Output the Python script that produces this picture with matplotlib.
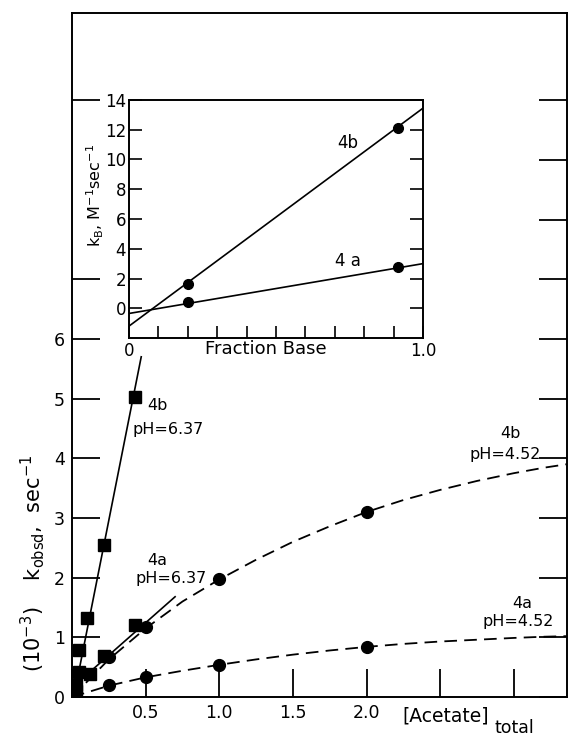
import matplotlib
matplotlib.use("Agg")
import matplotlib.pyplot as plt

plt.rcParams['font.family'] = ['DejaVu Sans']

# main plot: k_obsd vs total acetate
sq_b637_x = [0.025, 0.05, 0.10, 0.22, 0.43]
sq_b637_y = [0.20, 0.79, 1.32, 2.55, 5.02]
sq_a637_x = [0.025, 0.05, 0.12, 0.22, 0.43]
sq_a637_y = [0.10, 0.42, 0.38, 0.69, 1.20]

fit_b637_x = [0.02, 0.47]
fit_b637_y = [0.10, 5.70]
fit_a637_x = [0.02, 0.70]
fit_a637_y = [0.20, 1.68]

ci_b452_x = [0.25, 0.5, 1.0, 2.0]
ci_b452_y = [0.67, 1.18, 1.97, 3.10]
ci_a452_x = [0.25, 0.5, 1.0, 2.0]
ci_a452_y = [0.20, 0.33, 0.54, 0.84]

# dashed curves
curve_x = [0, 0.25, 0.5, 0.75, 1.0, 1.25, 1.5, 1.75, 2.0, 2.25, 2.5, 2.75, 3.0, 3.2, 3.36]
curve_b452 = [0, 0.63, 1.15, 1.60, 1.97, 2.30, 2.60, 2.86, 3.10, 3.30, 3.47, 3.62, 3.75, 3.84, 3.90]
curve_a452 = [0, 0.19, 0.33, 0.44, 0.54, 0.63, 0.71, 0.78, 0.84, 0.89, 0.93, 0.96, 0.99, 1.01, 1.02]

x_ticks = [0, 0.5, 1.0, 1.5, 2.0, 2.5, 3.0]
x_ticklabels = ['', '0.5', '1.0', '1.5', '2.0', '', '']
y_ticks = [0, 1, 2, 3, 4, 5, 6, 7, 8, 9, 10]
y_ticklabels = ['0', '1', '2', '3', '4', '5', '6', '', '', '', '']

# inset: k_B vs fraction base
frac_x = [0.2, 0.915]
kb_4b = [1.6, 12.1]
kb_4a = [0.4, 2.75]
inset_fit_x = [0, 1.0]
inset_fit_4b = [-1.2, 13.45]
inset_fit_4a = [-0.35, 3.0]
inset_yticks = [0, 2, 4, 6, 8, 10, 12, 14]
inset_xticks = [0, 0.1, 0.2, 0.3, 0.4, 0.5, 0.6, 0.7, 0.8, 0.9, 1.0]

fig = plt.figure(figsize=(5.68, 7.39), dpi=100)
ax = fig.add_axes([0.1268, 0.0568, 0.871, 0.9256])

ax.plot(fit_b637_x, fit_b637_y, color='black', lw=1.2)
ax.plot(fit_a637_x, fit_a637_y, color='black', lw=1.2)
ax.plot(sq_b637_x, sq_b637_y, 's', color='black', ms=9)
ax.plot(sq_a637_x, sq_a637_y, 's', color='black', ms=9)
ax.plot(curve_x, curve_b452, color='black', lw=1.3, linestyle=(0, (7, 4)))
ax.plot(curve_x, curve_a452, color='black', lw=1.3, linestyle=(0, (7, 4)))
ax.plot(ci_b452_x, ci_b452_y, 'o', color='black', ms=8.5)
ax.plot(ci_a452_x, ci_a452_y, 'o', color='black', ms=8.5)

ax.set_xlim(0, 3.36)
ax.set_ylim(0, 11.46)
ax.set_xticks(x_ticks)
ax.set_xticklabels(x_ticklabels)
ax.set_yticks(y_ticks)
ax.set_yticklabels(y_ticklabels)
ax.tick_params(direction='in', length=20, width=1.3, labelsize=12.5, pad=5,
               right=True, top=False)
# left ticks at 8 and 9 are hidden behind the inset label in the original
for i in (8, 9):
    ax.yaxis.get_major_ticks()[i].tick1line.set_visible(False)
for s in ax.spines.values():
    s.set_linewidth(1.4)

lab = dict(fontsize=11.5, ha='center', va='center')
ax.text(0.583, 4.89, '4b', **lab)
ax.text(0.651, 4.49, 'pH=6.37', **lab)
ax.text(0.576, 2.29, '4a', **lab)
ax.text(0.671, 1.98, 'pH=6.37', **lab)
ax.text(2.976, 4.42, '4b', **lab)
ax.text(2.942, 4.07, 'pH=4.52', **lab)
ax.text(3.058, 1.57, '4a', **lab)
ax.text(3.03, 1.27, 'pH=4.52', **lab)

fig.text(0.785, 0.031, '[Acetate]', fontsize=13.5, ha='center', va='center')
fig.text(0.905, 0.015, 'total', fontsize=12.5, ha='center', va='center')
fig.text(0.058, 0.238, r'(10$^{-3}$)    k$_{\mathrm{obsd}}$,  sec$^{-1}$', fontsize=15,
         rotation=90, ha='center', va='center')

ins = fig.add_axes([0.2271, 0.5426, 0.5176, 0.3221])
ins.set_facecolor('white')
ins.plot(inset_fit_x, inset_fit_4b, color='black', lw=1.2)
ins.plot(inset_fit_x, inset_fit_4a, color='black', lw=1.2)
ins.plot(frac_x, kb_4b, 'o', color='black', ms=7)
ins.plot(frac_x, kb_4a, 'o', color='black', ms=7)
ins.set_xlim(0, 1.0)
ins.set_ylim(-2, 14)
ins.set_yticks(inset_yticks)
ins.set_xticks(inset_xticks)
ins.set_xticklabels(['0', '', '', '', '', '', '', '', '', '', '1.0'])
ins.tick_params(direction='in', labelsize=12, width=1.2, pad=3, right=True)
ins.tick_params(axis='y', length=9.4, pad=2)
ins.tick_params(axis='x', length=8.5)
for s in ins.spines.values():
    s.set_linewidth(1.4)
ins.text(0.466, -2.75, 'Fraction Base', fontsize=13, ha='center', va='center')
ins.text(0.745, 11.1, '4b', fontsize=12, ha='center', va='center')
ins.text(0.745, 3.2, '4 a', fontsize=12, ha='center', va='center')
fig.text(0.167, 0.736, r'k$_{\mathrm{B}}$, M$^{-1}$sec$^{-1}$', fontsize=11.5,
         rotation=90, ha='center', va='center')

fig.savefig('out.png', dpi=100)
